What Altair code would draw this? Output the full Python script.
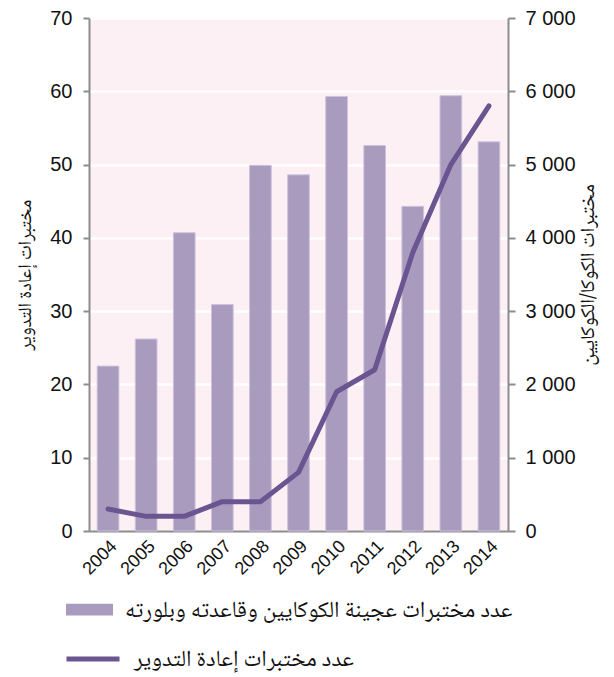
import altair as alt
import pandas as pd

years = [str(y) for y in range(2004, 2015)]
cocaine_labs = [2250, 2620, 4070, 3090, 4990, 4860, 5930, 5260, 4430, 5940, 5310]
recycling_labs = [3, 2, 2, 4, 4, 8, 19, 22, 38, 50, 58]
bar_label = "عدد مختبرات عجينة الكوكايين وقاعدته وبلورته"
line_label = "عدد مختبرات إعادة التدوير"
left_title = "مختبرات إعادة التدوير"
right_title = "مختبرات الكوكا/الكوكايين"
left_ticks = [0, 10, 20, 30, 40, 50, 60, 70]
right_ticks = [0, 1000, 2000, 3000, 4000, 5000, 6000, 7000]

df = pd.DataFrame({
    "year": years,
    "bars": cocaine_labs,
    "line": recycling_labs,
    "sb": [bar_label] * len(years),
    "sl": [line_label] * len(years),
})

AR_FONT = "Noto Naskh Arabic, Amiri, Noto Sans Arabic, DejaVu Sans"
NUM_FONT = "Liberation Sans, Arial, sans-serif"
GREY = "#8c8c8c"

x_enc = alt.X(
    "year:N",
    sort=years,
    scale=alt.Scale(paddingInner=0.43, paddingOuter=0.215),
    axis=alt.Axis(
        title=None, labelAngle=315, labelFont=NUM_FONT, labelFontSize=18,
        labelColor="#111", ticks=False, domainColor=GREY, domainWidth=2,
        labelPadding=6, grid=False,
    ),
)

bars = alt.Chart(df).mark_bar(color="#a99bbe", stroke="#cdc3dc", strokeWidth=1).encode(
    x=x_enc,
    y=alt.Y(
        "bars:Q",
        scale=alt.Scale(domain=[0, 7000], nice=False),
        axis=alt.Axis(
            orient="right", values=right_ticks, grid=False,
            labelExpr="replace(format(datum.value, ','), ',', ' ')",
            labelFont=NUM_FONT, labelFontSize=20, labelColor="#111",
            tickColor=GREY, tickSize=7, tickWidth=2, domainColor=GREY, domainWidth=2,
            labelPadding=10, title=right_title, titleFont=AR_FONT, titleFontSize=20,
            titleFontWeight="normal", titleAngle=270, titlePadding=22, titleColor="#111",
        ),
    ),
    fill=alt.Fill(
        "sb:N",
        scale=alt.Scale(domain=[bar_label], range=["#a99bbe"]),
        legend=alt.Legend(
            title=None, orient="none", legendX=-23, legendY=568,
            symbolType="M-1,-0.25H1V0.25H-1Z", symbolSize=2209,
            symbolStrokeWidth=0, labelFont=AR_FONT, labelFontSize=23,
            labelColor="#111", labelLimit=700, labelOffset=12, padding=0,
        ),
    ),
)

line = alt.Chart(df).mark_line(color="#6b5591", strokeWidth=5, strokeCap="round", strokeJoin="round").encode(
    x=x_enc,
    y=alt.Y(
        "line:Q",
        scale=alt.Scale(domain=[0, 70], nice=False),
        axis=alt.Axis(
            orient="left", values=left_ticks, grid=True, gridColor="white", gridWidth=2.5,
            labelFont=NUM_FONT, labelFontSize=20, labelColor="#111",
            tickColor=GREY, tickSize=6, tickWidth=2, domainColor=GREY, domainWidth=2,
            labelPadding=11, title=left_title, titleFont=AR_FONT, titleFontSize=19,
            titleFontWeight="normal", titleAngle=270, titlePadding=15, titleColor="#111",
        ),
    ),
    stroke=alt.Stroke(
        "sl:N",
        scale=alt.Scale(domain=[line_label], range=["#6b5591"]),
        legend=alt.Legend(
            title=None, orient="none", legendX=-25, legendY=612,
            symbolType="stroke", symbolSize=2809, symbolStrokeWidth=5,
            labelFont=AR_FONT, labelFontSize=23, labelColor="#111",
            labelLimit=700, labelOffset=12, padding=0,
        ),
    ),
)

chart = alt.layer(bars, line).resolve_scale(y="independent", fill="independent", stroke="independent").properties(
    width=419,
    height=513,
    autosize=alt.AutoSizeParams(type="none"),
    padding={"left": 81, "top": 10, "right": 98, "bottom": 146},
).configure_view(fill="#fdf0f4", stroke="transparent")

chart.save("out.html", embed_options={"renderer": "svg", "actions": False})
